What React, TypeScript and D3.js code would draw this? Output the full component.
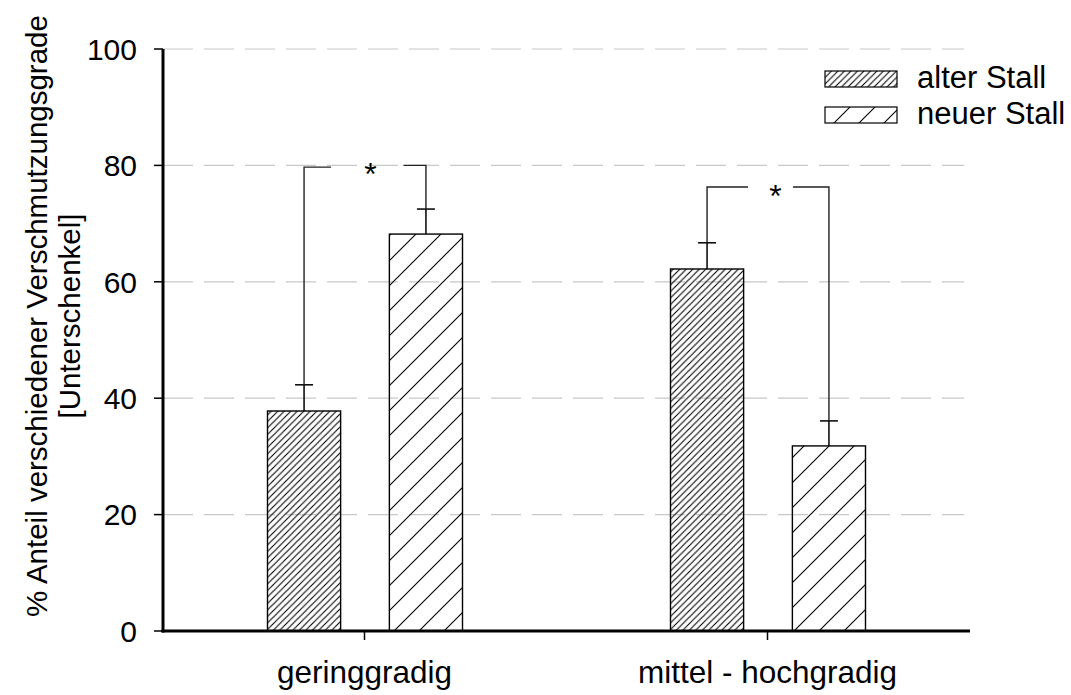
import React from "react";
import * as d3 from "d3";

const categories = ["geringgradig", "mittel - hochgradig"];
const seriesNames = ["alter Stall", "neuer Stall"];
const alterValues = [37.8, 62.2];
const neuerValues = [68.2, 31.8];
const alterErrors = [4.5, 4.5];
const neuerErrors = [4.3, 4.3];
const yTicks = [0, 20, 40, 60, 80, 100];
const bracketLeftLevels = [79.7, 76.3];
const bracketRightLevels = [80.0, 76.3];
const bracketLabels = ["*", "*"];

// layout-only settings
const W = 1071;
const H = 695;
const axisX = 163;
const axisY = 631;
const topY = 49;
const rightX = 969;
const font = "'Liberation Sans', Arial, Helvetica, sans-serif";
const bracketGaps = [
  { leftEnd: 27, rightStart: -22.5, star: 6 },
  { leftEnd: 41, rightStart: -36, star: 8 },
];

export default function App() {
  const y = d3.scaleLinear().domain([0, 100]).range([axisY, topY]);
  const x0 = d3.scaleBand<string>().domain(categories).range([axisX, rightX]).padding(0);
  const x1 = d3.scaleBand<string>().domain(seriesNames).range([-97, 98]).paddingInner(0.4);
  const bw = x1.bandwidth();
  const values = [alterValues, neuerValues];
  const errors = [alterErrors, neuerErrors];
  const patterns = ["hatchDense", "hatchSparse"];

  const center = (ci: number) => (x0(categories[ci]) as number) + x0.bandwidth() / 2;
  const barCenter = (ci: number, si: number) => center(ci) + (x1(seriesNames[si]) as number) + bw / 2;

  return (
    <svg width={W} height={H} style={{ position: "absolute", left: 0, top: 0, background: "#fff" }} fontFamily={font}>
      <defs>
        <pattern id="hatchDense" patternUnits="userSpaceOnUse" width={6.5} height={6.5}>
          <path d="M-1,1 L1,-1 M0,6.5 L6.5,0 M5.5,7.5 L7.5,5.5" stroke="#000" strokeWidth={1.1} />
        </pattern>
        <pattern id="hatchSparse" patternUnits="userSpaceOnUse" width={25} height={25}>
          <path d="M-1,1 L1,-1 M0,25 L25,0 M24,26 L26,24" stroke="#000" strokeWidth={1.1} />
        </pattern>
      </defs>
      <rect width={W} height={H} fill="#fff" />

      {/* grid */}
      {yTicks.filter((t) => t > 0).map((t) => (
        <line key={"g" + t} x1={axisX} x2={964} y1={y(t)} y2={y(t)} stroke="#c8c8c8" strokeWidth={1.2} strokeDasharray="30,11" />
      ))}

      {/* bars */}
      {categories.map((c, ci) =>
        seriesNames.map((s, si) => {
          const v = values[si][ci];
          const bx = center(ci) + (x1(s) as number);
          return (
            <rect key={c + s} x={bx} y={y(v)} width={bw} height={y(0) - y(v)} fill={`url(#${patterns[si]})`} stroke="#000" strokeWidth={1.4} />
          );
        })
      )}

      {/* error bars */}
      {categories.map((c, ci) =>
        seriesNames.map((s, si) => {
          const v = values[si][ci];
          const e = errors[si][ci];
          const cx = barCenter(ci, si);
          return (
            <g key={"e" + c + s} stroke="#000" strokeWidth={1.5}>
              <line x1={cx} x2={cx} y1={y(v)} y2={y(v + e)} />
              <line x1={cx - 9} x2={cx + 9} y1={y(v + e)} y2={y(v + e)} />
            </g>
          );
        })
      )}

      {/* significance brackets */}
      {categories.map((c, ci) => {
        const lx = barCenter(ci, 0);
        const rx = barCenter(ci, 1);
        const lTop = values[0][ci] + errors[0][ci];
        const rTop = values[1][ci] + errors[1][ci];
        const ly = y(bracketLeftLevels[ci]);
        const ry = y(bracketRightLevels[ci]);
        const g = bracketGaps[ci];
        return (
          <g key={"b" + c}>
            <path d={`M${lx},${y(lTop)} V${ly} H${lx + g.leftEnd}`} fill="none" stroke="#222" strokeWidth={1.4} />
            <path d={`M${rx + g.rightStart},${ry} H${rx} V${y(rTop)}`} fill="none" stroke="#222" strokeWidth={1.4} />
            <text x={center(ci) + g.star} y={Math.min(ly, ry) + 20} textAnchor="middle" fontSize={32} fill="#000">
              {bracketLabels[ci]}
            </text>
          </g>
        );
      })}

      {/* axes */}
      <line x1={axisX} x2={axisX} y1={topY} y2={axisY + 1.5} stroke="#000" strokeWidth={3} />
      <line x1={axisX - 1.5} x2={rightX + 1} y1={axisY} y2={axisY} stroke="#000" strokeWidth={3} />
      {yTicks.map((t) => (
        <g key={"t" + t}>
          <line x1={axisX - 9} x2={axisX} y1={y(t)} y2={y(t)} stroke="#000" strokeWidth={1.5} />
          <text x={137} y={y(t)} dy="0.36em" textAnchor="end" fontSize={30} fill="#000">
            {t}
          </text>
        </g>
      ))}
      {categories.map((c, ci) => (
        <g key={"x" + c}>
          <line x1={center(ci)} x2={center(ci)} y1={axisY} y2={axisY + 9} stroke="#000" strokeWidth={1.5} />
          <text x={center(ci)} y={683} textAnchor="middle" fontSize={31.5} fill="#000">
            {c}
          </text>
        </g>
      ))}

      {/* y axis label */}
      <g transform="translate(47,316) rotate(-90)">
        <text x={0} y={0} textAnchor="middle" fontSize={29.5} fill="#000">
          % Anteil verschiedener Verschmutzungsgrade
        </text>
        <text x={0} y={33} textAnchor="middle" fontSize={29.5} fill="#000">
          [Unterschenkel]
        </text>
      </g>

      {/* legend */}
      {seriesNames.map((s, si) => (
        <g key={"l" + s} transform={`translate(825,${71 + si * 36})`}>
          <rect x={0} y={0} width={72} height={16} fill={`url(#${patterns[si]})`} stroke="#000" strokeWidth={1.2} />
          <text x={92} y={17} fontSize={31} fill="#000">
            {s}
          </text>
        </g>
      ))}
    </svg>
  );
}
